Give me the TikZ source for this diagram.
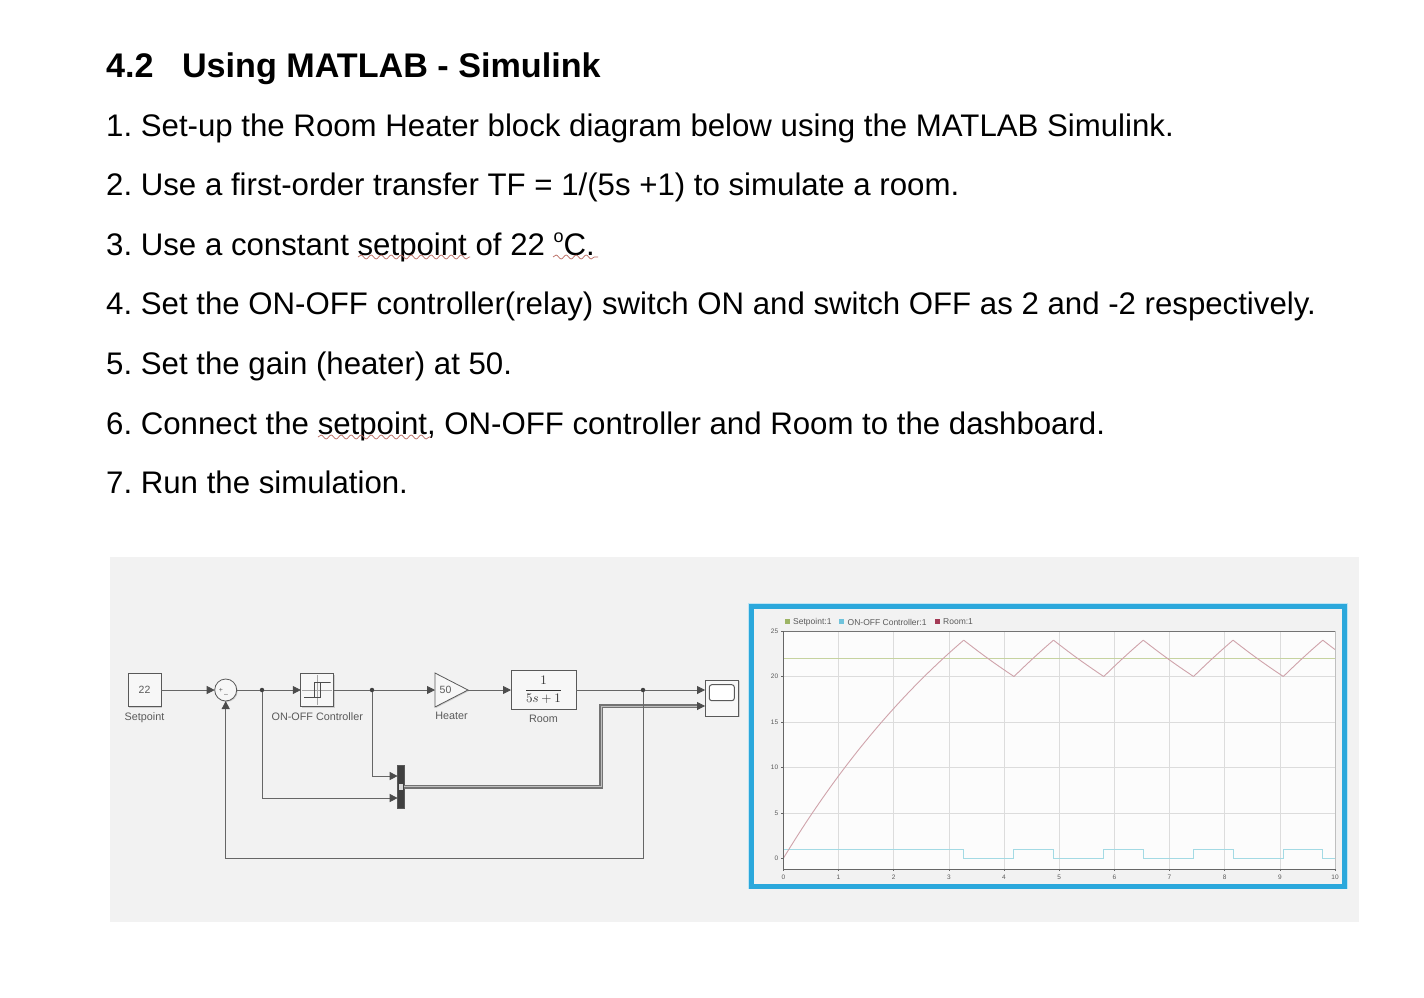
\documentclass[tikz,border=0pt]{standalone}
\usepackage{fontspec}
\setmainfont{Liberation Sans}
\usetikzlibrary{arrows.meta,shapes.geometric,shadows,decorations.pathmorphing}
\definecolor{panelgray}{HTML}{F2F2F2}
\definecolor{framecyan}{HTML}{2BA8DC}
\definecolor{wirecol}{HTML}{666666}
\definecolor{labelcol}{HTML}{5A5A5A}
\definecolor{gridcol}{HTML}{DCDCDC}
\definecolor{roomcol}{HTML}{CFA3AB}
\definecolor{setcol}{HTML}{C6D3A0}
\definecolor{ctrlcol}{HTML}{A3DAE4}
\definecolor{spellcol}{HTML}{B8685F}
\definecolor{legendgreen}{HTML}{9DB565}
\definecolor{legendblue}{HTML}{6FC3DC}
\definecolor{legendred}{HTML}{A33A55}
\tikzset{
	blockbox/.style={draw=black!65,fill=white!97!black,line width=.8pt,inner sep=0pt,outer sep=0pt,
		drop shadow={shadow xshift=1pt,shadow yshift=-1pt,opacity=.3}},
	blocktag/.style={text=labelcol,font=\fontsize{10.8}{12}\selectfont},
	wire/.style={draw=wirecol,line width=.8pt,-{Triangle[length=8pt,width=8pt,color=black!70]}},
	plainwire/.style={draw=wirecol,line width=.8pt},
	busline/.style={draw=black!55,line width=1.3pt,double=black!25,double distance=.9pt},
	branchdot/.style={circle,fill=black!75,inner sep=0pt,minimum size=4.5pt},
	textline/.style={anchor=base west,inner sep=0pt,font=\fontsize{31.2}{36}\selectfont},
	spell/.style={draw=spellcol,line width=.7pt,decorate,decoration={snake,amplitude=2pt,segment length=10pt}},
	ticktag/.style={text=labelcol,inner sep=0pt,font=\fontsize{6.5}{8}\selectfont},
	legendtag/.style={text=labelcol,anchor=west,inner sep=0pt,font=\fontsize{8.5}{10}\selectfont},
}
\begin{document}
\begin{tikzpicture}[x=1pt,y=-1pt]
	\useasboundingbox (0,0) rectangle (1424,997);
	\fill[white] (0,0) rectangle (1424,997);
	\node[textline,font=\bfseries\fontsize{34.15}{40}\selectfont] (title) at (106,77) {4.2\hspace{.83em}Using MATLAB - Simulink};
	\foreach \t[count=\i from 1,evaluate=\i as\j using {136+59.65*(\i-1)}] in {
			Set-up the Room Heater block diagram below using the MATLAB Simulink.,
			Use a first-order transfer TF = 1/(5s +1) to simulate a room.,
			Use a constant setpoint of 22 \raisebox{.42em}{\fontsize{18}{18}\selectfont o}C.,
			Set the ON-OFF controller(relay) switch ON and switch OFF as 2 and -2 respectively.,
			Set the gain (heater) at 50.,
			{Connect the setpoint, ON-OFF controller and Room to the dashboard.},
			Run the simulation.
		}
	\node[textline] (line\i) at (106,\j) {\i.\ \t};
	\draw[spell] (358,257) -- (470,257);
	\draw[spell] (553,257) -- (598,257);
	\draw[spell] (318,437) -- (431,437);

	\fill[panelgray] (110,557) rectangle (1359,922);

	% model
	\node[blockbox,minimum width=33pt,minimum height=33pt,font=\fontsize{10.5}{12}\selectfont,text=labelcol] (setpoint) at (144.5,690) {22};
	\node[blocktag,anchor=north] (setpointtag) at (setpoint.south) [yshift=-3pt] {Setpoint};
	\node[blockbox,circle,minimum size=22pt] (sum) at (225.7,690) {};
	\node[inner sep=0pt,text=labelcol,font=\fontsize{7}{8}\selectfont] (sumplus) at (221,690) {+};
	\node[inner sep=0pt,text=labelcol,font=\fontsize{7}{8}\selectfont] (summinus) at (226,695) {--};
	\node[blockbox,minimum width=33pt,minimum height=33pt] (relay) at (317.3,690) {};
	\node[blocktag,anchor=north] (relaytag) at (relay.south) [yshift=-3pt] {ON-OFF Controller};
	\draw[black!35,line width=.5pt] (302,690) -- (332,690) (317.3,675) -- (317.3,705);
	\draw[black!70,line width=.8pt] (304.3,697) -- (320.7,697) -- (320.7,682.3) -- (330.7,682.3) -- (314,682.3) -- (314,697);
	\node[blockbox,isosceles triangle,isosceles triangle stretches,minimum width=34pt,minimum height=33pt,anchor=lower side] (heater) at (435,690) {};
	\node[inner sep=0pt,font=\fontsize{10.5}{12}\selectfont,text=labelcol] (heatertext) at (445.5,690) {50};
	\node[blocktag,anchor=north] (heatertag) at (451.5,706) [yshift=-3pt] {Heater};
	\node[blockbox,minimum width=65pt,minimum height=39pt,text=black!80] (room) at (543.5,689.5) {\raisebox{1pt}{\scalebox{1.3}{$\displaystyle\frac{1}{5s+1}$}}};
	\node[blocktag,anchor=north] (roomtag) at (room.south) [yshift=-3pt] {Room};
	\node[blockbox,minimum width=33.5pt,minimum height=36pt] (dash) at (721.8,698) {};
	\node[draw=black!65,fill=white,line width=1pt,rounded corners=2.5pt,minimum width=25pt,minimum height=16pt,inner sep=0pt] (dashicon) at (721.8,692.7) {};
	\node[blockbox,fill=black!75,minimum width=6.3pt,minimum height=42.3pt] (mux) at (400.8,786.8) {};
	\fill[black!15] (398.5,783.5) rectangle (403,790);

	\node[branchdot] (tap1) at (262,690) {};
	\node[branchdot] (tap2) at (372,690) {};
	\node[branchdot] (tap3) at (643,690) {};
	\coordinate (mux1) at (mux.west |- 0,776);
	\coordinate (mux2) at (mux.west |- 0,798);
	\coordinate (dash1) at (dash.west |- 0,690);
	\coordinate (dash2) at (dash.west |- 0,706);
	\coordinate (busturn1) at (601,786.8);
	\coordinate (busturn2) at (601,706);
	\coordinate (fbturn1) at (643,858);
	\coordinate (fbturn2) at (225.7,858);

	\draw[busline] (mux.east) -- (busturn1) -- (busturn2) -- ([xshift=-6pt]dash2);
	\draw[wire] (setpoint) -- (sum);
	\draw[plainwire] (sum) -- (tap1);
	\draw[wire] (tap1) -- (relay);
	\draw[plainwire] (relay) -- (tap2);
	\draw[wire] (tap2) -- (heater.lower side);
	\draw[wire] (heater.apex) -- (room.west |- heater.apex);
	\draw[plainwire] (room.east |- tap3) -- (tap3);
	\draw[wire] (tap3) -- (dash1);
	\draw[wire] (tap2) |- (mux1);
	\draw[wire] (tap1) |- (mux2);
	\draw[wire] (tap3) -- (fbturn1) -- (fbturn2) -- (sum);
	\draw[wire] ([xshift=-8pt]dash2) -- (dash2);

	% scope window
	\draw[draw=framecyan!30,line width=1pt,fill=panelgray] (748.5,603.5) rectangle (1347.2,888.8);
	\draw[draw=framecyan,line width=5pt] (751.5,606.6) rectangle (1344.2,886);
	\fill[white!99!black] (783.3,630.7) rectangle (1335,869.3);
	\fill[legendgreen] (784.5,619) rectangle (789.5,624);
	\node[legendtag] (legend1) at (793,622) {Setpoint:1};
	\fill[legendblue] (839,619) rectangle (844,624);
	\node[legendtag] (legend2) at (847.5,622) {ON-OFF Controller:1};
	\fill[legendred] (935,619) rectangle (940,624);
	\node[legendtag] (legend3) at (943,622) {Room:1};

	\begin{scope}[shift={(783.3,858.3)},x=55.17pt,y=9.09pt]
		\foreach \v in {5,10,...,25}
		\draw[gridcol,line width=.6pt] (0,\v) -- (10,\v);
		\foreach \v in {1,...,9}
		\draw[gridcol,line width=.6pt] (\v,-1.2) -- (\v,25);
		\draw[setcol,line width=1pt] (0,22) -- (10,22);
		\draw[ctrlcol,line width=.9pt] (0,1) -- (3.27,1) -- (3.27,0) -- (4.18,0) -- (4.18,1) -- (4.9,1) -- (4.9,0)
			-- (5.81,0) -- (5.81,1) -- (6.52,1) -- (6.52,0) -- (7.44,0) -- (7.44,1) -- (8.15,1) -- (8.15,0)
			-- (9.06,0) -- (9.06,1) -- (9.78,1) -- (9.78,0) -- (10,0);
		\draw[roomcol,line width=.9pt] plot[domain=0:3.2696,samples=30] (\x,{50-50*exp(-\x/5)});
		\foreach \a/\b/\c in {3.2696/4.1812/4.8967,4.8967/5.8083/6.5238,6.5238/7.4354/8.1509,8.1509/9.0625/9.778} {
			\draw[roomcol,line width=.9pt] plot[domain=\a:\b,samples=8] (\x,{24*exp(-(\x-\a)/5)});
			\draw[roomcol,line width=.9pt] plot[domain=\b:\c,samples=8] (\x,{50-30*exp(-(\x-\b)/5)});
		}
		\draw[roomcol,line width=.9pt] plot[domain=9.778:10,samples=4] (\x,{24*exp(-(\x-9.778)/5)});
		\draw[black!55,line width=.7pt] (0,25) -- (10,25);
		\draw[black!25,line width=.7pt] (10,25) -- (10,-1.2);
		\draw[black!60,line width=.8pt] (0,25) -- (0,-1.2) -- (10,-1.2);
		\foreach \v in {0,5,...,25} {
			\draw[black!60,line width=.5pt] (0,\v) -- ++(-2pt,0);
			\node[ticktag,anchor=east] (ytick\v) at (-.09,\v) {\v};
		}
		\foreach \v in {0,...,10} {
			\draw[black!60,line width=.5pt] (\v,-1.2) -- ++(0,-2pt);
			\node[ticktag] (xtick\v) at (\v,-2.05) {\v};
		}
	\end{scope}
\end{tikzpicture}
\end{document}
